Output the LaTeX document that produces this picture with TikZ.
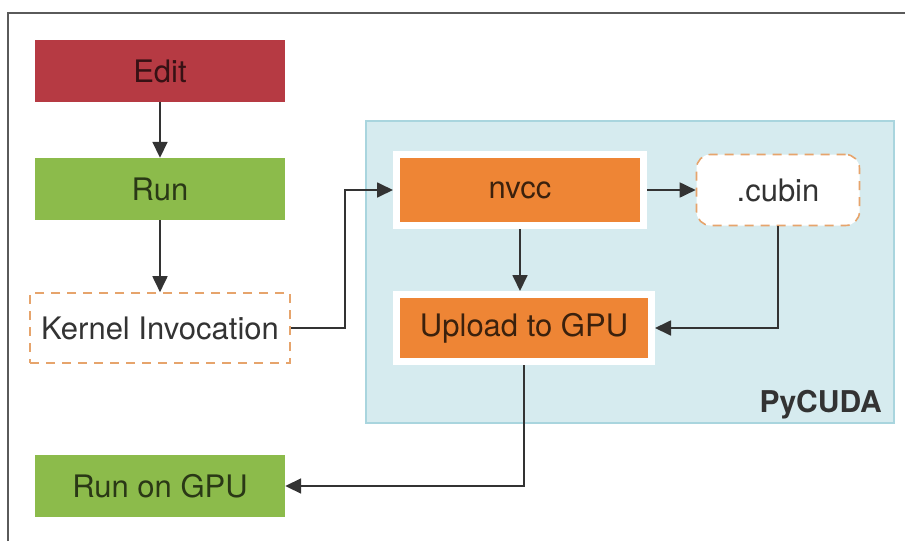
\documentclass[tikz,border=0pt]{standalone}
\usepackage{fontspec}
\setmainfont{TeX Gyre Heros}
\usetikzlibrary{arrows.meta}

\definecolor{editred}{HTML}{B63A43}
\definecolor{rungreen}{HTML}{8CBB4B}
\definecolor{nvccorange}{HTML}{EE8535}
\definecolor{dashorange}{HTML}{E6A46C}
\definecolor{cudafill}{HTML}{D6EBEF}
\definecolor{cudaline}{HTML}{A9D5DE}
\definecolor{linegray}{HTML}{333333}
\definecolor{framegray}{HTML}{5A5A5A}

\begin{document}
\begin{tikzpicture}[x=1pt, y=-1pt, >={Triangle[length=16pt,width=15pt]},
    every node/.style={font=\fontsize{31}{36}\selectfont, inner sep=0pt},
    stepbox/.style={minimum width=250pt, minimum height=62pt},
    hotbox/.style={fill=nvccorange, draw=white, line width=7pt, text=black!75!nvccorange},
    dashbox/.style={draw=dashorange, line width=1.6pt, dash pattern=on 9pt off 7pt, fill=white, text=linegray},
    arr/.style={->, draw=linegray, line width=1.8pt}]
    \useasboundingbox (0,0) rectangle (905,541);
    % ==== FRAME ====
    \draw[framegray, line width=2pt] (8,541) -- (8,13) -- (905,13);
    % ==== PYCUDA AREA ====
    \fill[cudafill] (366,121) rectangle (894,423);
    \draw[cudaline, line width=1.5pt] (366,121) rectangle (894,423);
    \node[anchor=base east, font=\fontsize{30}{36}\selectfont\bfseries, text=linegray] (pycuda) at (882,412) {PyCUDA};
    % ==== HOST SIDE ====
    \node[stepbox, fill=editred, text=black!70!editred] (edit) at (160,71) {Edit};
    \node[stepbox, fill=rungreen, text=black!70!rungreen] (run) at (160,189) {Run};
    \node[dashbox, minimum width=260pt, minimum height=70pt] (kernel) at (160,328) {Kernel Invocation};
    \node[stepbox, fill=rungreen, text=black!70!rungreen] (rungpu) at (160,486) {Run on GPU};
    % ==== DEVICE SIDE ====
    \node[hotbox, minimum width=247pt, minimum height=71pt] (nvcc) at (520,190) {nvcc};
    \node[dashbox, rounded corners=14pt, minimum width=163pt, minimum height=71pt] (cubin) at (778,190) {.cubin};
    \node[hotbox, minimum width=255pt, minimum height=67pt] (upload) at (524,328) {Upload to GPU};
    \coordinate (kbend) at (345,328);
    % ==== ARROWS ====
    \draw[arr] (edit) -- (run);
    \draw[arr] (run) -- (kernel);
    \draw[arr] (kernel.east) -- (kbend) |- (nvcc.west);
    \draw[arr] (nvcc) -- (cubin);
    \draw[arr] (nvcc.south) -- (nvcc.south |- upload.north);
    \draw[arr] (cubin.south) |- (upload.east);
    \draw[arr] (upload.south) |- (rungpu.east);
\end{tikzpicture}
\end{document}
